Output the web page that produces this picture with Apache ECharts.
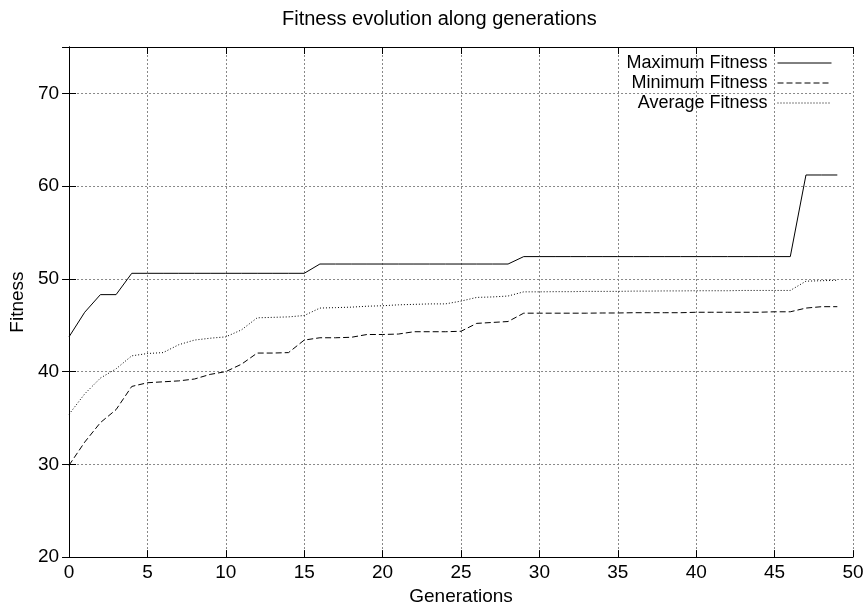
<!DOCTYPE html>
<html>
<head>
<meta charset="utf-8">
<script src="https://cdn.jsdelivr.net/npm/echarts@6/dist/echarts.min.js"></script>
<style>
  html, body { margin: 0; padding: 0; background: #fff; }
  #chart { width: 868px; height: 611px; }
</style>
</head>
<body>
<div id="chart"></div>
<script>
// generations on the x axis
const generations = [0, 1, 2, 3, 4, 5, 6, 7, 8, 9,
  10, 11, 12, 13, 14, 15, 16, 17, 18, 19,
  20, 21, 22, 23, 24, 25, 26, 27, 28, 29,
  30, 31, 32, 33, 34, 35, 36, 37, 38, 39,
  40, 41, 42, 43, 44, 45, 46, 47, 48, 49];

const maxFitness = [43.75, 46.4, 48.3, 48.3, 50.6, 50.6, 50.6, 50.6, 50.6, 50.6,
  50.6, 50.6, 50.6, 50.6, 50.6, 50.6, 51.6, 51.6, 51.6, 51.6,
  51.6, 51.6, 51.6, 51.6, 51.6, 51.6, 51.6, 51.6, 51.6, 52.4,
  52.4, 52.4, 52.4, 52.4, 52.4, 52.4, 52.4, 52.4, 52.4, 52.4,
  52.4, 52.4, 52.4, 52.4, 52.4, 52.4, 52.4, 61.2, 61.2, 61.2];

const minFitness = [29.9, 32.4, 34.5, 35.9, 38.4, 38.8, 38.9, 39.0, 39.2, 39.7,
  40.0, 40.8, 42.0, 42.0, 42.05, 43.4, 43.65, 43.65, 43.7, 44.0,
  44.0, 44.05, 44.3, 44.3, 44.3, 44.35, 45.2, 45.3, 45.4, 46.3,
  46.3, 46.3, 46.3, 46.3, 46.32, 46.32, 46.35, 46.35, 46.35, 46.35,
  46.4, 46.4, 46.4, 46.4, 46.4, 46.45, 46.45, 46.85, 47.0, 47.0];

const avgFitness = [35.4, 37.6, 39.3, 40.3, 41.7, 41.95, 42.05, 42.9, 43.4, 43.6,
  43.75, 44.5, 45.8, 45.85, 45.9, 46.05, 46.85, 46.9, 46.95, 47.05,
  47.1, 47.2, 47.25, 47.3, 47.3, 47.6, 48.0, 48.05, 48.15, 48.6,
  48.6, 48.62, 48.62, 48.65, 48.65, 48.65, 48.68, 48.68, 48.7, 48.7,
  48.72, 48.72, 48.72, 48.75, 48.75, 48.75, 48.75, 49.75, 49.8, 49.85];

const xTicks = { min: 0, max: 50, interval: 5 };
const yTicks = { min: 20, max: 75, interval: 10 };

const FONT = "'Liberation Sans', Arial, Helvetica, sans-serif";

const chart = echarts.init(document.getElementById('chart'), null, { renderer: 'canvas' });

const pairs = (vals) => generations.map((g, i) => [g, vals[i]]);

// gnuplot-ish frame: ticks inside on all four sides, dotted grid
const tickStyle = { show: true, inside: true, length: 7, lineStyle: { color: '#000', width: 1 } };
const lineStyleAxis = { show: true, lineStyle: { color: '#000', width: 1 } };
const gridLine = { show: true, lineStyle: { color: '#888', width: 1, type: [2, 2] } };

const option = {
  animation: false,
  backgroundColor: '#fff',
  textStyle: { fontFamily: FONT },
  title: {
    text: 'Fitness evolution along generations',
    left: 282,
    top: 9,
    padding: 0,
    textStyle: { fontFamily: FONT, fontSize: 20, fontWeight: 'normal', color: '#000' }
  },
  grid: { left: 66, right: 15, top: 47, bottom: 51 },
  legend: {
    orient: 'vertical',
    right: 31,
    top: 49,
    align: 'right',
    itemWidth: 54,
    itemHeight: 12,
    itemGap: 2,
    selectedMode: false,
    itemStyle: { opacity: 0 },
    lineStyle: { width: 1 },
    textStyle: { fontFamily: FONT, fontSize: 18, color: '#000', padding: [0, 5, 0, 0] },
    data: ['Maximum Fitness', 'Minimum Fitness', 'Average Fitness']
  },
  xAxis: [
    {
      type: 'value', position: 'bottom',
      min: xTicks.min, max: xTicks.max, interval: xTicks.interval,
      name: 'Generations', nameLocation: 'middle', nameGap: 27,
      nameTextStyle: { fontFamily: FONT, fontSize: 19, color: '#000' },
      axisLine: lineStyleAxis, axisTick: tickStyle,
      axisLabel: { color: '#000', fontSize: 19, fontFamily: FONT, margin: 6 },
      splitLine: gridLine
    },
    {
      type: 'value', position: 'top',
      min: xTicks.min, max: xTicks.max, interval: xTicks.interval,
      axisLine: lineStyleAxis, axisTick: tickStyle,
      axisLabel: { show: false }, splitLine: { show: false }
    }
  ],
  yAxis: [
    {
      type: 'value', position: 'left',
      min: yTicks.min, max: yTicks.max, interval: yTicks.interval,
      name: 'Fitness', nameLocation: 'middle', nameGap: 41,
      nameTextStyle: { fontFamily: FONT, fontSize: 19, color: '#000' },
      axisLine: lineStyleAxis, axisTick: tickStyle,
      axisLabel: { color: '#000', fontSize: 19, fontFamily: FONT, margin: 10, showMaxLabel: false },
      splitLine: gridLine
    },
    {
      type: 'value', position: 'right',
      min: yTicks.min, max: yTicks.max, interval: yTicks.interval,
      axisLine: lineStyleAxis, axisTick: tickStyle,
      axisLabel: { show: false }, splitLine: { show: false }
    }
  ],
  series: [
    {
      name: 'Maximum Fitness', type: 'line', symbol: 'none',
      data: pairs(maxFitness),
      itemStyle: { color: '#000' },
      lineStyle: { color: '#000', width: 1, type: 'solid' }
    },
    {
      name: 'Minimum Fitness', type: 'line', symbol: 'none',
      data: pairs(minFitness),
      itemStyle: { color: '#000' },
      lineStyle: { color: '#000', width: 1, type: [6, 3] }
    },
    {
      name: 'Average Fitness', type: 'line', symbol: 'none',
      data: pairs(avgFitness),
      itemStyle: { color: '#000' },
      lineStyle: { color: '#000', width: 1, type: [1, 2] }
    }
  ]
};

chart.setOption(option);
</script>
</body>
</html>
